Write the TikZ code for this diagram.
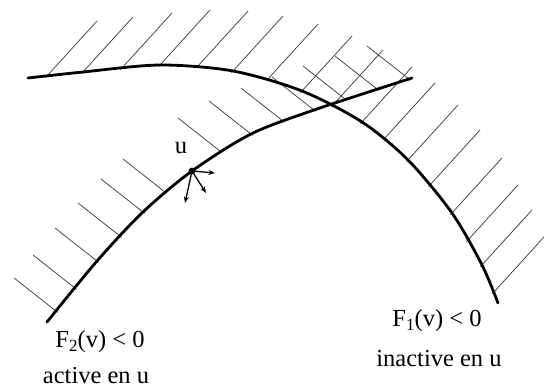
\documentclass[tikz,border=0pt]{standalone}
\usepackage{fontspec}
\setmainfont{Liberation Serif}
\usetikzlibrary{arrows.meta}
\newcommand{\lowidx}[1]{\raisebox{-0.4ex}{\fontsize{17}{17}\selectfont #1}}
\begin{document}
\begin{tikzpicture}[x=1pt, y=-1pt, every node/.style={font=\fontsize{24.5}{28}\selectfont, inner sep=0pt},
  >={Stealth[length=6.5pt,width=5pt]},
  border/.style={line width=2.8pt, line cap=round},
  hatch/.style={line width=0.75pt, black!75},
  normal/.style={->, line width=1.3pt}]
\useasboundingbox (0,0) rectangle (544,388);

\foreach \x/\y in {47/76, 83/72, 122/68, 160/65, 198/66, 233/71, 268/79, 302/91, 333/105, 362/122, 385/138, 408/160, 430/185, 452/213, 468/240, 482/265, 494/292}
  \draw[hatch] (\x,\y) ++(-1.5,1.6) -- ++(51.5,-56.6);
\foreach \x/\y in {56/311, 75/288, 97/261, 120/236, 143/212, 165/192, 220/151, 251/134, 283/121, 314/110, 345/99, 377/89, 409/79}
  \draw[hatch] (\x,\y) ++(1.6,1.3) -- ++(-43.6,-34.3);

\draw[border] plot[smooth] coordinates {(28,78) (83,72) (160,65) (233,71) (302,91) (362,122) (408,160) (452,213) (482,265) (498,303)};
\draw[border] plot[smooth] coordinates {(47,322) (97,261) (143,212) (192,171) (251,134) (314,110) (412,78)};

\coordinate (u) at (192,171);
\coordinate (uright) at (215,173);
\coordinate (udiag) at (206,193);
\coordinate (udown) at (185,203);
\fill (u) circle (3.4pt);
\draw[normal] (u) -- (uright);
\draw[normal] (u) -- (udiag);
\draw[normal] (u) -- (udown);

\node (ulabel) at (181,148) {u};
\node[anchor=base] (ftwo) at (100,347) {F\lowidx{2}(v) < 0};
\node[anchor=base] (activetwo) at (96,383) {active en u};
\node[anchor=base] (fone) at (437,326) {F\lowidx{1}(v) < 0};
\node[anchor=base] (inactiveone) at (439,366) {inactive en u};
\end{tikzpicture}
\end{document}
